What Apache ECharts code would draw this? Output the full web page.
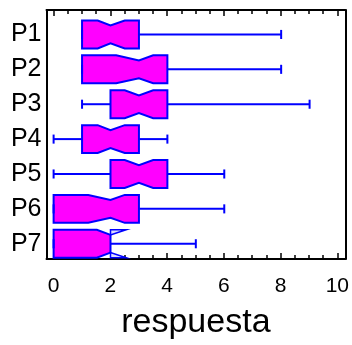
<!DOCTYPE html>
<html>
<head>
<meta charset="utf-8">
<script src="https://cdn.jsdelivr.net/npm/echarts@6/dist/echarts.min.js"></script>
<style>
html,body{margin:0;padding:0;background:#fff;}
#chart{width:352px;height:345px;}
</style>
</head>
<body>
<div id="chart"></div>
<script>
// ---- data ----
const categories = ['P1','P2','P3','P4','P5','P6','P7'];
const minVals    = [1, 1, 1, 0, 0, 0, 0];
const q1Vals     = [1, 1, 2, 1, 2, 0, 0];
const medianVals = [2, 3, 3, 2, 3, 2, 2];
const q3Vals     = [3, 4, 4, 3, 4, 3, 2];
const maxVals    = [8, 8, 9, 4, 6, 6, 5];
const notchLow   = [1.55, 2.2, 2.5, 1.55, 2.5, 1.22, 1.52];
const notchHigh  = [2.5, 3.5, 3.5, 2.5, 3.5, 2.5, 2.55];
const xAxisName  = 'respuesta';

const boxData = categories.map((c, i) => [i, minVals[i], q1Vals[i], medianVals[i], q3Vals[i], maxVals[i], notchLow[i], notchHigh[i]]);

const FONT = '"Liberation Sans", Arial, Helvetica, sans-serif';
const FILL = '#FF00FF', STROKE = '#0000FF', LIGHT = '#dcdcff';
const X_MIN = -0.25, X_MAX = 10.28;

function renderItem(params, api) {
  const i = api.value(0);
  const mn = api.value(1), q1 = api.value(2), md = api.value(3), q3 = api.value(4), mx = api.value(5);
  const nl = api.value(6), nh = api.value(7);
  const yc = api.coord([md, i])[1];
  const band = api.size([0, 1])[1];
  const hh = band * 0.4, inset = band * 0.145, cap = band * 0.13;
  const X = v => api.coord([v, i])[0];
  const top = yc - hh, bot = yc + hh, itop = top + inset, ibot = bot - inset;
  const ls = {stroke: STROKE, lineWidth: 2, fill: null};
  const children = [];
  children.push({type: 'line', shape: {x1: X(mn), y1: yc, x2: X(q1), y2: yc}, style: ls});
  children.push({type: 'line', shape: {x1: X(q3), y1: yc, x2: X(mx), y2: yc}, style: ls});
  function yTopAt(v) {
    if (v <= md) {
      const t = (v - nl) / (md - nl);
      return top + Math.max(0, Math.min(1, t)) * inset;
    } else {
      const t = (nh - v) / (nh - md);
      return top + Math.max(0, Math.min(1, t)) * inset;
    }
  }
  const pts = [];
  const ltop = yTopAt(q1);
  pts.push([X(q1), ltop]);
  if (nl > q1) pts.push([X(nl), top]);
  pts.push([X(md), itop]);
  if (nh < q3) pts.push([X(nh), top]);
  const rtop = yTopAt(q3);
  pts.push([X(q3), rtop]);
  pts.push([X(q3), bot - (rtop - top)]);
  if (nh < q3) pts.push([X(nh), bot]);
  pts.push([X(md), ibot]);
  if (nl > q1) pts.push([X(nl), bot]);
  pts.push([X(q1), bot - (ltop - top)]);
  children.push({type: 'polygon', shape: {points: pts}, style: {fill: FILL, stroke: STROKE, lineWidth: 2, lineJoin: 'miter'}});
  if (nh > q3) {
    const ly = {fill: LIGHT, stroke: STROKE, lineWidth: 1.5};
    children.push({type: 'polygon', shape: {points: [[X(q3), top], [X(nh), top], [X(q3), rtop]]}, style: ly});
    children.push({type: 'polygon', shape: {points: [[X(q3), bot], [X(nh), bot], [X(q3), bot - (rtop - top)]]}, style: ly});
  }
  if (nl < q1) {
    const ly = {fill: LIGHT, stroke: STROKE, lineWidth: 1.5};
    children.push({type: 'polygon', shape: {points: [[X(q1), top], [X(nl), top], [X(q1), ltop]]}, style: ly});
    children.push({type: 'polygon', shape: {points: [[X(q1), bot], [X(nl), bot], [X(q1), bot - (ltop - top)]]}, style: ly});
  }
  children.push({type: 'line', shape: {x1: X(mn), y1: yc - cap, x2: X(mn), y2: yc + cap}, style: ls});
  children.push({type: 'line', shape: {x1: X(mx), y1: yc - cap, x2: X(mx), y2: yc + cap}, style: ls});
  return {type: 'group', children: children};
}

const chart = echarts.init(document.getElementById('chart'), null, {renderer: 'canvas'});
const frameLine = {show: true, onZero: false, lineStyle: {color: '#000', width: 2}};
const tickStyle = {show: true, inside: true, length: 6, lineStyle: {color: '#000', width: 1.5}};
const minorStyle = {show: true, splitNumber: 4, length: 4, lineStyle: {color: '#000', width: 1.5}};
chart.setOption({
  animation: false,
  backgroundColor: '#fff',
  grid: [
    {left: 46.5, right: 6, top: 10, bottom: 75.7, containLabel: false},
    {left: 46.5, right: 6, top: 17, height: 244.2, containLabel: false}
  ],
  xAxis: [
    {
      type: 'value', gridIndex: 0, position: 'bottom', min: X_MIN, max: X_MAX, splitNumber: 5,
      axisLine: frameLine, axisTick: tickStyle, minorTick: minorStyle,
      splitLine: {show: false},
      axisLabel: {show: true, showMinLabel: false, showMaxLabel: false, fontSize: 21, color: '#000', fontFamily: FONT, margin: 17},
      name: xAxisName, nameLocation: 'middle', nameGap: 47,
      nameTextStyle: {fontSize: 34, color: '#000', fontFamily: FONT}
    },
    {
      type: 'value', gridIndex: 0, position: 'top', min: X_MIN, max: X_MAX, splitNumber: 5,
      axisLine: frameLine, axisTick: tickStyle, minorTick: minorStyle,
      splitLine: {show: false},
      axisLabel: {show: false}
    },
    {type: 'value', gridIndex: 1, min: X_MIN, max: X_MAX, show: false}
  ],
  yAxis: [
    {type: 'value', gridIndex: 0, position: 'left', min: 0, max: 1, axisLine: frameLine, axisTick: {show: false}, axisLabel: {show: false}, splitLine: {show: false}},
    {type: 'value', gridIndex: 0, position: 'right', min: 0, max: 1, axisLine: frameLine, axisTick: {show: false}, axisLabel: {show: false}, splitLine: {show: false}},
    {
      type: 'category', gridIndex: 1, data: categories, inverse: true,
      axisLine: {show: false}, axisTick: {show: false}, splitLine: {show: false},
      axisLabel: {fontSize: 25, color: '#000', fontFamily: FONT, margin: 5}
    }
  ],
  series: [{
    type: 'custom',
    xAxisIndex: 2,
    yAxisIndex: 2,
    renderItem: renderItem,
    encode: {x: [1, 2, 3, 4, 5], y: 0},
    data: boxData,
    clip: false
  }]
});
</script>
</body>
</html>
